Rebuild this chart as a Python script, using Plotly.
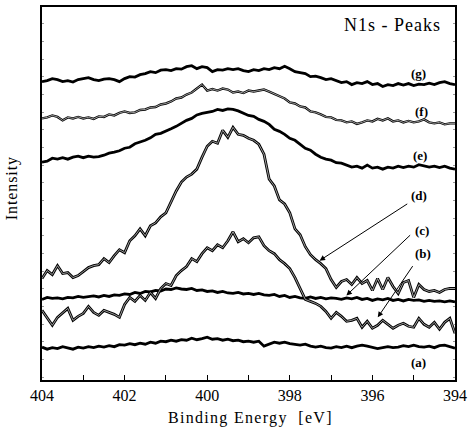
import plotly.graph_objects as go

# Binding energy grid (eV)
energy = [404.0, 403.875, 403.75, 403.625, 403.5, 403.375, 403.25, 403.125, 403.0, 402.875,
          402.75, 402.625, 402.5, 402.375, 402.25, 402.125, 402.0, 401.875, 401.75, 401.625,
          401.5, 401.375, 401.25, 401.125, 401.0, 400.875, 400.75, 400.625, 400.5, 400.375,
          400.25, 400.125, 400.0, 399.875, 399.75, 399.625, 399.5, 399.375, 399.25, 399.125,
          399.0, 398.875, 398.75, 398.625, 398.5, 398.375, 398.25, 398.125, 398.0, 397.875,
          397.75, 397.625, 397.5, 397.375, 397.25, 397.125, 397.0, 396.875, 396.75, 396.625,
          396.5, 396.375, 396.25, 396.125, 396.0, 395.875, 395.75, 395.625, 395.5, 395.375,
          395.25, 395.125, 395.0, 394.875, 394.75, 394.625, 394.5, 394.375, 394.25, 394.125,
          394.0]

# Intensities (arbitrary units, vertically offset spectra)
curve_g = [300, 301, 303, 302, 300, 301, 299.5, 302, 303, 304,
           302, 301, 302.5, 303, 302, 300, 303, 305, 304.5, 307,
           308, 310, 309, 311.5, 312, 311, 313, 312.5, 315, 316,
           313, 315, 314, 310, 312, 311.5, 313, 312, 313, 311,
           310, 312, 311, 313, 312, 314, 313, 315.5, 313, 310,
           309, 308, 305, 305.5, 304, 302, 303, 301, 299, 300,
           297, 299, 298, 300, 297, 298, 295, 297, 296, 298,
           296.5, 298, 296, 297.5, 297, 298.5, 297, 299, 300, 298,
           297]

curve_f = [263, 264, 266, 264.5, 261, 264, 263, 264.5, 263, 264,
           262.5, 265, 264.5, 267, 266, 268.5, 270, 268.5, 269, 271.5,
           272, 274, 274.5, 277, 278, 280, 283, 284, 287, 289,
           293, 297, 291, 292.5, 291, 293, 292, 289, 290, 288.5,
           291, 290, 291, 292, 290, 287.5, 285, 283, 279, 278,
           275, 274, 270, 269, 267, 264.5, 264, 261.5, 261, 259,
           260, 257.5, 259, 261, 260, 262.5, 261, 263, 260, 261,
           259, 260.5, 259, 260, 262, 259, 258, 259, 257, 258,
           258]

curve_e = [219, 220, 223, 222, 223.5, 222, 224, 225, 223.5, 225,
           224, 224.5, 226, 228, 229, 230.5, 233, 234, 237.5, 239,
           241, 243.5, 247, 248, 250, 252.5, 255, 258, 261, 263,
           266.5, 268, 269, 270, 272, 271, 272.5, 272, 270.5, 268,
           266, 265, 262, 260, 257, 252, 250, 247, 243, 241,
           237, 233, 231, 227, 224, 222, 221, 218.5, 218, 216,
           214, 215, 213, 216, 213, 214, 212, 214, 213, 215,
           213.5, 215, 214, 216.5, 215, 214, 215, 213.5, 215, 213,
           212]

curve_d = [102, 110, 106, 115, 107, 108, 103, 105, 109, 113,
           115, 116, 122, 118, 125, 131, 128, 140, 145, 152,
           145, 155, 158, 164, 168, 179, 190, 199, 204, 207,
           212, 224, 235, 240, 238, 251, 244, 254, 247, 246,
           243, 241, 237, 227, 202, 195, 181, 177, 168, 152,
           146, 134, 126, 121, 117, 112, 101, 93, 99, 101,
           96, 103, 97, 100, 90, 102, 91, 103, 94, 87,
           98, 100, 83, 96, 91, 89, 90, 88, 91, 92,
           92]

curve_c = [81, 83, 82, 82.5, 81.5, 83, 82.5, 84, 83, 83.5,
           84.5, 83.5, 85, 84, 85.5, 85, 86.5, 86, 88, 87,
           89, 88.5, 90, 89.5, 91.5, 91, 92.5, 91.5, 91, 92,
           90, 90.5, 89, 89.5, 88, 89, 87.5, 87, 88, 86.5,
           87, 86, 87, 85.5, 85, 86, 84, 85, 83, 84,
           82.5, 82, 83.5, 82, 83, 81.5, 82.5, 82, 81, 82.5,
           81.5, 83, 81, 82, 80, 81.5, 80.5, 82, 80, 81,
           79.5, 81, 80, 80.5, 79, 80, 79, 79.5, 78.5, 79.5,
           78.5]

curve_b = [70, 62, 55, 63, 68, 72, 60, 64, 67, 74,
           68, 65, 70, 68, 66, 63, 76, 83, 79, 85,
           80, 88, 82, 92, 97, 95, 105, 110, 114, 122,
           119, 127, 133, 130, 136, 133, 140, 149, 139, 142,
           138, 143, 144, 135, 130, 127, 121, 117, 112, 103,
           92, 81, 79, 77, 74, 69, 62, 68, 64, 59,
           60, 62, 53, 59, 52, 55, 60, 56, 52, 55,
           57, 54, 53, 62, 56, 53, 58, 51, 58, 62,
           47]

curve_a = [33, 31, 32.5, 31.5, 33.5, 32, 31, 33, 32, 33.5,
           32.5, 34, 33, 34.5, 33.5, 35.5, 35, 36.5, 35.5, 37,
           36, 38, 37, 39, 38.5, 40, 39, 40.5, 40, 42,
           40.5, 41.5, 43, 41, 41.5, 40, 41, 39.5, 40, 38.5,
           39, 38, 39, 34, 36, 38, 37, 38, 36.5, 36,
           35, 36, 34, 33, 34, 32.5, 32, 33.5, 32.5, 34,
           32.5, 34, 35, 34, 33, 31.5, 32.5, 33.5, 32.5, 33,
           34.5, 33.5, 35, 33.5, 33, 34, 32.5, 34.5, 35, 33.5,
           32]

# Curve labels and their positions
label_text = ["(g)", "(f)", "(e)", "(d)", "(c)", "(b)", "(a)"]
label_x = [394.89, 394.80, 394.84, 394.86, 394.81, 394.77, 394.89]
label_y = [308, 270, 226, 185, 150, 127, 18]

# Arrows: (head_x, head_y, tail_x, tail_y) for (d), (c), (b)
arrow_head_x = [397.28, 396.63, 395.87]
arrow_head_y = [120, 85, 63]
arrow_tail_x = [395.12, 395.05, 395.00]
arrow_tail_y = [178, 147, 116]

FONT = "Times New Roman"

fig = go.Figure()

for ys in [curve_g, curve_e, curve_c, curve_a]:
    fig.add_trace(go.Scatter(x=energy, y=ys, mode="lines",
                             line=dict(color="black", width=2.8),
                             hoverinfo="skip", showlegend=False))

for ys, w in [(curve_f, 2.4), (curve_d, 2.8), (curve_b, 2.8)]:
    fig.add_trace(go.Scatter(x=energy, y=ys, mode="lines",
                             line=dict(color="black", width=w),
                             hoverinfo="skip", showlegend=False))
    fig.add_trace(go.Scatter(x=energy, y=ys, mode="lines",
                             line=dict(color="#c4c4c4", width=0.8),
                             hoverinfo="skip", showlegend=False))

annotations = []
for t, x, y in zip(label_text, label_x, label_y):
    annotations.append(dict(x=x, y=y, xref="x", yref="y", text="<b>%s</b>" % t,
                            showarrow=False, font=dict(family=FONT, size=13, color="black"),
                            xanchor="center", yanchor="middle"))
for hx, hy, tx, ty in zip(arrow_head_x, arrow_head_y, arrow_tail_x, arrow_tail_y):
    annotations.append(dict(x=hx, y=hy, xref="x", yref="y", ax=tx, ay=ty,
                            axref="x", ayref="y", text="", showarrow=True,
                            arrowhead=2, arrowsize=1.1, arrowwidth=1, arrowcolor="black"))

annotations.append(dict(x=0.97, y=0.952, xref="paper", yref="paper",
                        text='<span style="letter-spacing:1px">N1s - Peaks</span>',
                        showarrow=False, xanchor="right", yanchor="middle",
                        font=dict(family=FONT, size=18, color="black")))
annotations.append(dict(x=0.504, y=-0.101, xref="paper", yref="paper",
                        text='<span style="letter-spacing:1.3px">Binding Energy  [eV]</span>',
                        showarrow=False, xanchor="center", yanchor="middle",
                        font=dict(family=FONT, size=16, color="black")))
annotations.append(dict(x=-0.072, y=0.515, xref="paper", yref="paper",
                        text='<span style="letter-spacing:0.9px">Intensity</span>',
                        showarrow=False, textangle=-90,
                        xanchor="center", yanchor="middle",
                        font=dict(family=FONT, size=16, color="black")))

fig.update_layout(
    width=472, height=435,
    margin=dict(l=42, r=12, t=5, b=55),
    plot_bgcolor="white", paper_bgcolor="white",
    showlegend=False,
    font=dict(family=FONT, color="black", size=14),
    annotations=annotations,
)

fig.update_xaxes(
    range=[404, 394], tickmode="linear", tick0=394, dtick=2,
    ticks="inside", ticklen=5, tickwidth=1.2, tickcolor="black",
    minor=dict(dtick=1, tick0=394, ticks="inside", ticklen=5, tickwidth=1.2, tickcolor="black"),
    showline=True, linecolor="black", linewidth=1.6, mirror=True,
    showgrid=False, zeroline=False,
    tickfont=dict(family=FONT, size=16, color="black"),
)
fig.update_yaxes(
    range=[0, 375], tickmode="linear", tick0=3, dtick=17.75,
    ticks="inside", ticklen=2.5, tickwidth=1, tickcolor="#999",
    showticklabels=False,
    showline=True, linecolor="black", linewidth=1.6, mirror="ticks",
    showgrid=False, zeroline=False,
)

fig.write_html("out.html")
